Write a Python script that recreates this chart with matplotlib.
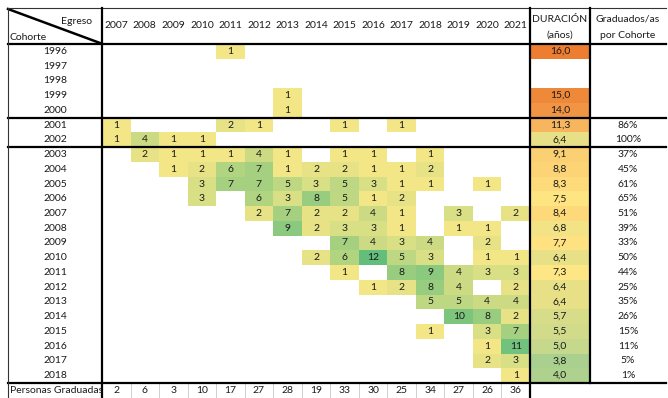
import matplotlib.pyplot as plt
from matplotlib.patches import Rectangle
from matplotlib.colors import LinearSegmentedColormap, Normalize

plt.rcParams['font.family'] = ['Lato', 'DejaVu Sans']

egreso = [2007, 2008, 2009, 2010, 2011, 2012, 2013, 2014, 2015, 2016, 2017, 2018, 2019, 2020, 2021]
cohortes = list(range(1996, 2019))

# graduates per cohort (rows) and year of graduation (cols); None = empty cell
counts = [
    [None, None, None, None, 1, None, None, None, None, None, None, None, None, None, None],  # 1996
    [None] * 15,                                                                             # 1997
    [None] * 15,                                                                             # 1998
    [None, None, None, None, None, None, 1, None, None, None, None, None, None, None, None],  # 1999
    [None, None, None, None, None, None, 1, None, None, None, None, None, None, None, None],  # 2000
    [1, None, None, None, 2, 1, None, None, 1, None, 1, None, None, None, None],              # 2001
    [1, 4, 1, 1, None, None, None, None, None, None, None, None, None, None, None],           # 2002
    [None, 2, 1, 1, 1, 4, 1, None, 1, 1, None, 1, None, None, None],                          # 2003
    [None, None, 1, 2, 6, 7, 1, 2, 2, 1, 1, 2, None, None, None],                             # 2004
    [None, None, None, 3, 7, 7, 5, 3, 5, 3, 1, 1, None, 1, None],                             # 2005
    [None, None, None, 3, None, 6, 3, 8, 5, 1, 2, None, None, None, None],                    # 2006
    [None, None, None, None, None, 2, 7, 2, 2, 4, 1, None, 3, None, 2],                       # 2007
    [None, None, None, None, None, None, 9, 2, 3, 3, 1, None, 1, 1, None],                    # 2008
    [None, None, None, None, None, None, None, None, 7, 4, 3, 4, None, 2, None],              # 2009
    [None, None, None, None, None, None, None, 2, 6, 12, 5, 3, None, 1, 1],                   # 2010
    [None, None, None, None, None, None, None, None, 1, None, 8, 9, 4, 3, 3],                 # 2011
    [None, None, None, None, None, None, None, None, None, 1, 2, 8, 4, None, 2],              # 2012
    [None, None, None, None, None, None, None, None, None, None, None, 5, 5, 4, 4],           # 2013
    [None, None, None, None, None, None, None, None, None, None, None, None, 10, 8, 2],        # 2014
    [None, None, None, None, None, None, None, None, None, None, None, 1, None, 3, 7],         # 2015
    [None, None, None, None, None, None, None, None, None, None, None, None, None, 1, 11],     # 2016
    [None, None, None, None, None, None, None, None, None, None, None, None, None, 2, 3],      # 2017
    [None, None, None, None, None, None, None, None, None, None, None, None, None, None, 1],   # 2018
]
duracion = [16.0, None, None, 15.0, 14.0, 11.3, 6.4, 9.1, 8.8, 8.3, 7.5, 8.4, 6.8, 7.7,
            6.4, 7.3, 6.4, 6.4, 5.7, 5.5, 5.0, 3.8, 4.0]
graduados_pct = [None, None, None, None, None, 86, 100, 37, 45, 61, 65, 51, 39, 33,
                 50, 44, 25, 35, 26, 15, 11, 5, 1]
totales = [2, 6, 3, 10, 17, 27, 28, 19, 33, 30, 25, 34, 27, 26, 36]

# layout in pixels
W, H = 668, 398
x_left, x_lab, x_dur, x_grad, x_right = 8, 102, 530, 590, 666
y_top, y_head = 8, 44
cw = (x_dur - x_lab) / len(egreso)
rh = (383 - y_head) / len(cohortes)

fig = plt.figure(figsize=(W / 100, H / 100), dpi=100)
ax = fig.add_axes([0, 0, 1, 1])
ax.set_xlim(0, W)
ax.set_ylim(H, 0)
ax.axis('off')

cmap_n = LinearSegmentedColormap.from_list('gy', ['#F3E686', '#63BE7B'])
norm_n = Normalize(1, 12)
dvals = [d for d in duracion if d is not None]
dmin, dmax, dmid = min(dvals), max(dvals), 7.3
cmap_d = LinearSegmentedColormap.from_list(
    'gyo', [(0, '#A9D08E'), ((dmid - dmin) / (dmax - dmin), '#FFE684'), (1, '#ED7D31')])
norm_d = Normalize(dmin, dmax)

fs = 7.5
tc = '#1a1a1a'

for i, coh in enumerate(cohortes):
    y0 = y_head + i * rh
    yc = y0 + rh / 2
    ax.text((x_left + x_lab) / 2, yc, str(coh), ha='center', va='center', fontsize=fs, color=tc)
    for j, v in enumerate(counts[i]):
        if v is None:
            continue
        x0 = x_lab + j * cw
        ax.add_patch(Rectangle((x0, y0), cw, rh, facecolor=cmap_n(norm_n(v)), edgecolor='none'))
        ax.text(x0 + cw / 2, yc, str(v), ha='center', va='center', fontsize=fs, color=tc)
    d = duracion[i]
    if d is not None:
        ax.add_patch(Rectangle((x_dur, y0), x_grad - x_dur, rh, facecolor=cmap_d(norm_d(d)), edgecolor='none'))
        ax.text((x_dur + x_grad) / 2, yc, f"{d:.1f}".replace('.', ','), ha='center', va='center',
                fontsize=fs, color=tc)
    g = graduados_pct[i]
    if g is not None:
        ax.text(628, yc, f"{g}%", ha='center', va='center', fontsize=fs, color=tc)

# header
hc = (y_top + y_head) / 2
for j, yr in enumerate(egreso):
    ax.text(x_lab + (j + 0.5) * cw, hc, str(yr), ha='center', va='center', fontsize=fs, color=tc)
ax.text((x_dur + x_grad) / 2, 19, "DURACIÓN", ha='center', va='center', fontsize=fs, color=tc)
ax.text((x_dur + x_grad) / 2, 35, "(años)", ha='center', va='center', fontsize=fs, color=tc)
ax.text(628, 19, "Graduados/as", ha='center', va='center', fontsize=fs, color=tc)
ax.text(628, 35, "por Cohorte", ha='center', va='center', fontsize=fs, color=tc)
ax.text(92, 22, "Egreso", ha='right', va='center', fontsize=fs, color=tc)
ax.text(10, 37, "Cohorte", ha='left', va='center', fontsize=fs, color=tc)
ax.plot([x_left, x_lab - 2], [y_top + 1, y_head - 1], color='black', lw=1.8)

# totals row
yb = y_head + len(cohortes) * rh
ax.text(10, yb + rh / 2, "Personas Graduadas", ha='left', va='center', fontsize=fs, color=tc)
for j, t in enumerate(totales):
    ax.text(x_lab + (j + 0.5) * cw, yb + rh / 2, str(t), ha='center', va='center', fontsize=fs, color=tc)
    if j > 0:
        ax.plot([x_lab + j * cw] * 2, [yb, H], color='#d0d0d0', lw=0.7)

# grid lines
ax.plot([x_left, x_right], [y_top, y_top], color='#333333', lw=0.8)
for yy in [y_head, y_head + 5 * rh, y_head + 7 * rh, yb]:
    ax.plot([x_left, x_right], [yy, yy], color='black', lw=1.6)
ax.plot([x_left, x_left], [y_top, H], color='#333333', lw=0.8)
ax.plot([x_lab, x_lab], [y_top, H], color='black', lw=1.6)
ax.plot([x_dur, x_dur], [y_top, H], color='black', lw=1.6)
ax.plot([x_grad, x_grad], [y_top, yb], color='black', lw=1.6)

fig.savefig("out.png", dpi=100)
